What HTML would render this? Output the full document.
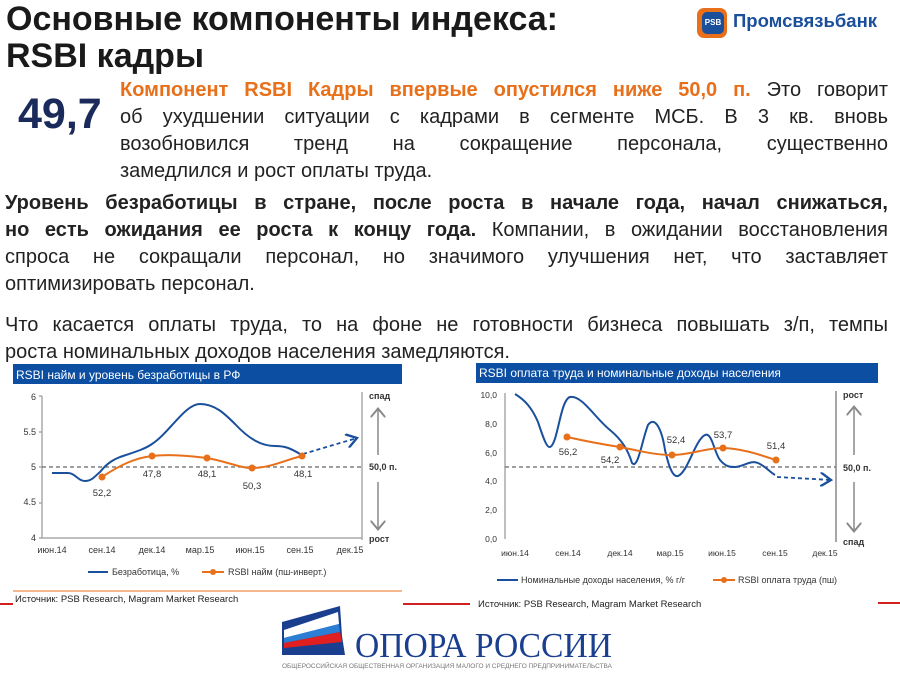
<!DOCTYPE html>
<html><head><meta charset="utf-8"><style>
body{margin:0;width:900px;height:674px;background:#fff;position:relative;overflow:hidden;font-family:"Liberation Sans",sans-serif;color:#222}
.a{position:absolute;white-space:nowrap}
.l{position:absolute;font-size:20px;line-height:27px;height:27px;white-space:nowrap;text-align:justify;text-align-last:justify;overflow:visible}
.t{position:absolute;white-space:nowrap;font-size:20px;line-height:27px}
.o{color:#e8701a;font-weight:bold}
b{font-weight:bold}
</style></head><body>
<div class="a" style="left:6px;top:1px;font-size:34px;font-weight:bold;color:#1a1a1a;line-height:37px">Основные компоненты индекса:<br>RSBI кадры</div>
<div class="a" style="left:697px;top:8px;width:30px;height:30px;background:#e8701a;border-radius:7px"></div>
<div class="a" style="left:702px;top:12px;width:22px;height:22px;background:#1a4f9c;border-radius:5px;color:#fff;font-size:8px;font-weight:bold;text-align:center;line-height:22px">PSB</div>
<div class="a" style="left:733px;top:10px;font-size:18.5px;font-weight:bold;color:#1a4f9c">Промсвязьбанк</div>
<div class="a" style="left:18px;top:90px;font-size:43px;font-weight:bold;color:#1a2a5a">49,7</div>
<div class="l" style="left:120px;top:77px;width:768px"><span class="o">Компонент RSBI Кадры впервые опустился ниже 50,0 п.</span> Это говорит</div>
<div class="l" style="left:120px;top:104px;width:768px">об ухудшении ситуации с кадрами в сегменте МСБ. В 3 кв. вновь</div>
<div class="l" style="left:120px;top:131px;width:768px">возобновился тренд на сокращение персонала, существенно</div>
<div class="t" style="left:120px;top:158px">замедлился и рост оплаты труда.</div>
<div class="l" style="left:5px;top:190px;width:883px"><b>Уровень безработицы в стране, после роста в начале года, начал снижаться,</b></div>
<div class="l" style="left:5px;top:217px;width:883px"><b>но есть ожидания ее роста к концу года.</b> Компании, в ожидании восстановления</div>
<div class="l" style="left:5px;top:244px;width:883px">спроса не сокращали персонал, но значимого улучшения нет, что заставляет</div>
<div class="t" style="left:5px;top:271px">оптимизировать персонал.</div>
<div class="l" style="left:5px;top:312px;width:883px">Что касается оплаты труда, то на фоне не готовности бизнеса повышать з/п, темпы</div>
<div class="t" style="left:5px;top:339px">роста номинальных доходов населения замедляются.</div>
<svg class="a" style="left:0;top:0" width="900" height="674" font-family="Liberation Sans,sans-serif">
<defs><marker id="ar" markerWidth="8" markerHeight="8" refX="6" refY="4" orient="auto"><path d="M0,0 L6,4 L0,8" fill="none" stroke="#1a4f9c" stroke-width="1.3"/></marker>
<marker id="ag" markerWidth="10" markerHeight="10" refX="5" refY="5" orient="auto"><path d="M0,0 L6,5 L0,10" fill="none" stroke="#888" stroke-width="1.3"/></marker></defs>
<rect x="13" y="364" width="389" height="20" fill="#0b4ea2"/>
<text x="16" y="379" font-size="12" fill="#fff">RSBI найм и уровень безработицы в РФ</text>
<g font-size="9" fill="#333">
<text x="36" y="400" text-anchor="end">6</text><text x="36" y="435" text-anchor="end">5.5</text><text x="36" y="470" text-anchor="end">5</text><text x="36" y="505" text-anchor="end">4.5</text><text x="36" y="541" text-anchor="end">4</text>
<g text-anchor="middle"><text x="52" y="553">июн.14</text><text x="102" y="553">сен.14</text><text x="152" y="553">дек.14</text><text x="200" y="553">мар.15</text><text x="250" y="553">июн.15</text><text x="300" y="553">сен.15</text><text x="350" y="553">дек.15</text></g>
</g>
<path d="M42,396 V538 H362 M42,396 h-3 M42,432 h-3 M42,467 h-3 M42,503 h-3 M42,538 h-3 M362,392 V540" stroke="#aaa" stroke-width="1.5" fill="none"/>
<line x1="42" y1="467" x2="362" y2="467" stroke="#666" stroke-dasharray="4,3" stroke-width="1.3"/>
<path d="M52,473 L68,473 C75,473 78,481 85,481 C92,481 95,476 100,472 C108,462 115,459 120,457 C135,452 145,449 152,444 C170,432 185,404 200,404 C215,404 225,414 235,424 C250,440 262,446 275,446 C285,446 290,448 300,454" stroke="#1a4f9c" stroke-width="2" fill="none"/>
<line x1="303" y1="454" x2="357" y2="438" stroke="#1a4f9c" stroke-width="1.8" stroke-dasharray="4,3" marker-end="url(#ar)"/>
<path d="M102,477 C120,465 135,458 152,456 C170,454 190,456 207,458 C225,461 240,468 252,468 C270,468 285,460 302,456" stroke="#e8701a" stroke-width="2" fill="none"/>
<g fill="#e8701a"><circle cx="102" cy="477" r="3.5"/><circle cx="152" cy="456" r="3.5"/><circle cx="207" cy="458" r="3.5"/><circle cx="252" cy="468" r="3.5"/><circle cx="302" cy="456" r="3.5"/></g>
<g font-size="9.5" fill="#333" text-anchor="middle"><text x="102" y="496">52,2</text><text x="152" y="477">47,8</text><text x="207" y="477">48,1</text><text x="252" y="489">50,3</text><text x="303" y="477">48,1</text></g>
<g font-size="9" fill="#333" font-weight="bold"><text x="369" y="399">спад</text><text x="369" y="470">50,0 п.</text><text x="369" y="542">рост</text></g>
<line x1="378" y1="455" x2="378" y2="410" stroke="#888" stroke-width="1.5" marker-end="url(#ag)"/>
<line x1="378" y1="482" x2="378" y2="528" stroke="#888" stroke-width="1.5" marker-end="url(#ag)"/>
<line x1="88" y1="572" x2="108" y2="572" stroke="#1a4f9c" stroke-width="2"/><text x="112" y="575" font-size="9" fill="#333">Безработица, %</text>
<line x1="202" y1="572" x2="224" y2="572" stroke="#e8701a" stroke-width="2"/><circle cx="213" cy="572" r="3" fill="#e8701a"/><text x="228" y="575" font-size="9" fill="#333">RSBI найм (пш-инверт.)</text>
<line x1="13" y1="591" x2="402" y2="591" stroke="#e8701a" stroke-width="1"/>
<text x="15" y="602" font-size="9.5" fill="#222">Источник: PSB Research, Magram Market Research</text>
<line x1="0" y1="604" x2="13" y2="604" stroke="#d02020" stroke-width="2"/>
<line x1="403" y1="604" x2="470" y2="604" stroke="#d02020" stroke-width="2"/>
<rect x="476" y="363" width="402" height="20" fill="#0b4ea2"/>
<text x="479" y="377" font-size="12" fill="#fff">RSBI оплата труда и номинальные доходы населения</text>
<g font-size="8.5" fill="#333" text-anchor="end">
<text x="497" y="398">10,0</text><text x="497" y="427">8,0</text><text x="497" y="456">6,0</text><text x="497" y="484">4,0</text><text x="497" y="513">2,0</text><text x="497" y="542">0,0</text>
</g>
<g font-size="8.5" fill="#333" text-anchor="middle"><text x="515" y="556">июн.14</text><text x="568" y="556">сен.14</text><text x="620" y="556">дек.14</text><text x="670" y="556">мар.15</text><text x="722" y="556">июн.15</text><text x="775" y="556">сен.15</text><text x="825" y="556">дек.15</text></g>
<line x1="505" y1="393" x2="505" y2="539" stroke="#aaa" stroke-width="1.5"/>
<line x1="836" y1="391" x2="836" y2="542" stroke="#888" stroke-width="1.5"/>
<line x1="505" y1="467" x2="836" y2="467" stroke="#666" stroke-dasharray="4,3" stroke-width="1.3"/>
<path d="M515,394 C525,400 532,408 538,422 C544,440 547,448 550,447 C558,444 560,400 570,397 C582,395 595,418 610,430 C622,440 628,450 632,463 C638,470 642,440 648,425 C655,415 662,430 665,450 C670,472 674,477 678,476 C688,472 695,440 705,435 C712,432 714,452 720,460 C726,467 730,467 735,467 C745,466 750,460 758,463 C765,466 770,472 775,475" stroke="#1a4f9c" stroke-width="2" fill="none"/>
<line x1="777" y1="477" x2="831" y2="480" stroke="#1a4f9c" stroke-width="1.8" stroke-dasharray="4,3" marker-end="url(#ar)"/>
<path d="M567,437 C585,441 600,444 620,447 C640,451 655,455 672,455 C690,455 705,448 723,448 C745,449 760,455 776,460" stroke="#e8701a" stroke-width="2" fill="none"/>
<g fill="#e8701a"><circle cx="567" cy="437" r="3.5"/><circle cx="620" cy="447" r="3.5"/><circle cx="672" cy="455" r="3.5"/><circle cx="723" cy="448" r="3.5"/><circle cx="776" cy="460" r="3.5"/></g>
<g font-size="9.5" fill="#333" text-anchor="middle"><text x="568" y="455">56,2</text><text x="610" y="463">54,2</text><text x="676" y="443">52,4</text><text x="723" y="438">53,7</text><text x="776" y="449">51,4</text></g>
<g font-size="9" fill="#333" font-weight="bold"><text x="843" y="398">рост</text><text x="843" y="471">50,0 п.</text><text x="843" y="545">спад</text></g>
<line x1="854" y1="455" x2="854" y2="408" stroke="#888" stroke-width="1.5" marker-end="url(#ag)"/>
<line x1="854" y1="482" x2="854" y2="530" stroke="#888" stroke-width="1.5" marker-end="url(#ag)"/>
<line x1="497" y1="580" x2="518" y2="580" stroke="#1a4f9c" stroke-width="2"/><text x="521" y="583" font-size="9" fill="#333">Номинальные доходы населения, % г/г</text>
<line x1="713" y1="580" x2="735" y2="580" stroke="#e8701a" stroke-width="2"/><circle cx="724" cy="580" r="3" fill="#e8701a"/><text x="738" y="583" font-size="9" fill="#333">RSBI оплата труда (пш)</text>
<text x="478" y="607" font-size="9.5" fill="#222">Источник: PSB Research, Magram Market Research</text>
<line x1="878" y1="603" x2="900" y2="603" stroke="#d02020" stroke-width="2"/>
<polygon points="282,622 340,606 342,636 345,655 282,655" fill="#1a3f8f"/>
<polygon points="284,630 338,612 339,624 284,638" fill="#fff"/>
<polygon points="284,638 339,624 340,632 284,643" fill="#2a7fd4"/>
<polygon points="284,643 340,632 342,642 284,648" fill="#e02020"/>
<text x="355" y="657" font-family="Liberation Serif,serif" font-size="35" fill="#1a3f8f" textLength="257" lengthAdjust="spacingAndGlyphs">ОПОРА РОССИИ</text>
<text x="282" y="668" font-size="6.3" fill="#777" textLength="330" lengthAdjust="spacingAndGlyphs">ОБЩЕРОССИЙСКАЯ ОБЩЕСТВЕННАЯ ОРГАНИЗАЦИЯ МАЛОГО И СРЕДНЕГО ПРЕДПРИНИМАТЕЛЬСТВА</text>
</svg>
</body></html>
